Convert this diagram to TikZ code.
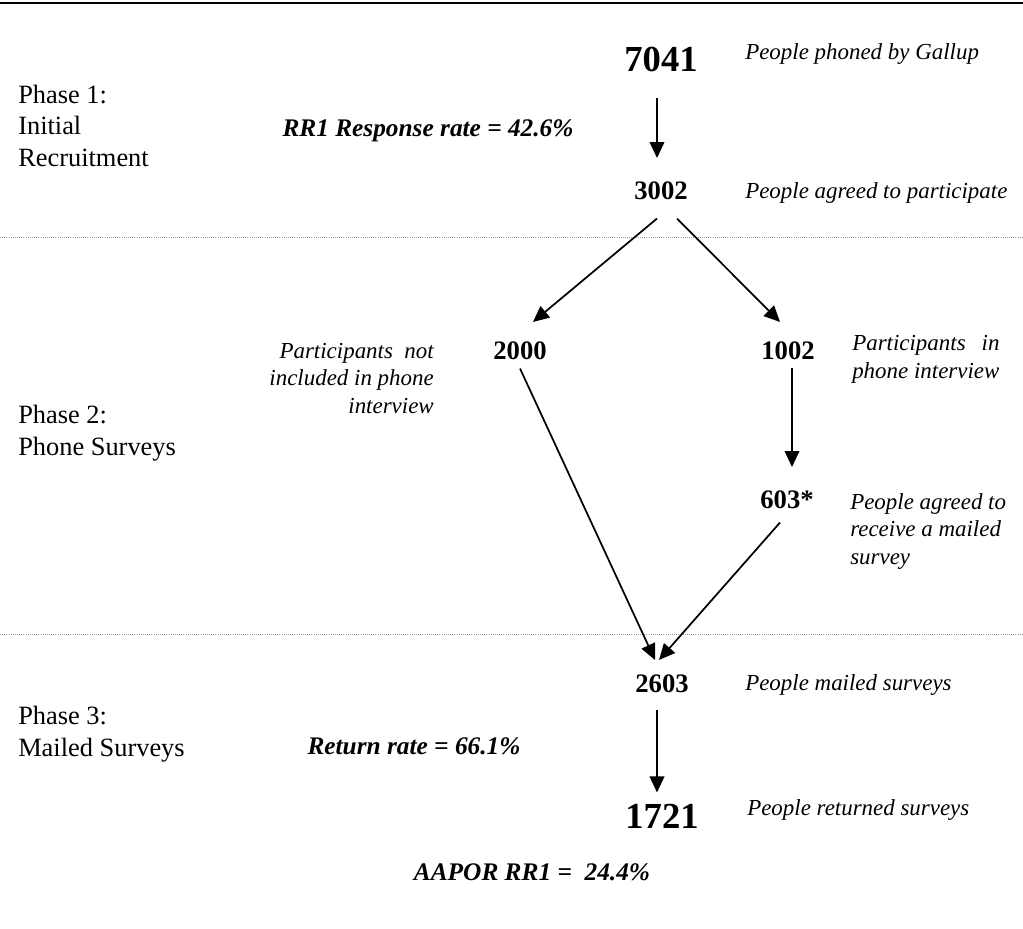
\documentclass[tikz,border=0pt]{standalone}
\usepackage{fontspec}
\setmainfont{Liberation Serif}
\usepackage{tikz}
\usetikzlibrary{arrows.meta, positioning, calc}

\begin{document}
\begin{tikzpicture}[
  x=0.75pt, y=-0.75pt,
  num/.style={inner sep=0pt, anchor=base, font=\fontsize{20}{24}\selectfont\bfseries},
  bignum/.style={inner sep=0pt, anchor=base, font=\fontsize{27.5}{32}\selectfont\bfseries},
  note/.style={inner sep=0pt, anchor=base west, align=left,
               font=\fontsize{17.2}{20.3}\selectfont\itshape},
  phase/.style={inner sep=0pt, anchor=base west, align=left,
                font=\fontsize{19.8}{23.3}\selectfont},
  rate/.style={inner sep=0pt, anchor=base,
               font=\fontsize{19}{22}\selectfont\bfseries\itshape},
  arrow/.style={-{Triangle[length=12pt, width=11pt]}, line width=1.3pt},
  divider/.style={gray!80, densely dotted, line width=0.6pt}
]
\useasboundingbox (0,0) rectangle (1023,928);

% rules
\draw[line width=1.4pt] (0,3) -- (1023,3);
\draw[divider] (0,237) -- (1023,237);
\draw[divider] (0,634) -- (1023,634);

% phases (anchored on the last line)
\node[phase] (ph1) at (18,166) {Phase 1:\\Initial\\Recruitment};
\node[phase] (ph2) at (18,455) {Phase 2:\\Phone Surveys};
\node[phase] (ph3) at (18,756) {Phase 3:\\Mailed Surveys};

% counts
\node[bignum] (n7041) at (661,71)  {7041};
\node[num]    (n3002) at (661,199) {3002};
\node[num]    (n2000) at (520,359) {2000};
\node[num]    (n1002) at (788,359) {1002};
\node[num]    (n603)  at (787,508) {603*};
\node[num]    (n2603) at (662,692) {2603};
\node[bignum] (n1721) at (662,828) {1721};

% notes
\node[note] (l7041) at (745,59)  {People phoned by Gallup};
\node[note] (l3002) at (745,198) {People agreed to participate};
\node[note, anchor=base east, align=right] (l2000) at (434,413)
  {Participants\ \ not\\included in phone\\interview};
\node[note] (l1002) at (852,378)
  {Participants\hspace{0.7em}in\\phone interview};
\node[note] (l603)  at (850,564) {People agreed to\\receive a mailed\\survey};
\node[note] (l2603) at (745,690) {People mailed surveys};
\node[note] (l1721) at (747,815) {People returned surveys};

% rates
\node[rate] (rr1)   at (428,136) {RR1 Response rate = 42.6\%};
\node[rate] (ret)   at (414,754) {Return rate = 66.1\%};
\node[rate] (aapor) at (532,880) {AAPOR RR1 = \ 24.4\%};

% flow
\draw[arrow] ($(n7041.south)+(-4,26)$) -- ($(n3002.north)+(-4,-23)$);
\draw[arrow] ($(n3002.south)+(-4,19)$) -- ($(n2000.north)+(13,-19)$);
\draw[arrow] ($(n3002.south)+(16,19)$) -- ($(n1002.north)+(-8,-19)$);
\draw[arrow] ($(n1002.south)+(4,8)$) -- ($(n603.north)+(5,-23)$);
\draw[arrow] ($(n2000.south)+(0,9)$) -- ($(n2603.north)+(-7,-14)$);
\draw[arrow] ($(n603.south)+(-7,14)$) -- ($(n2603.north)+(-3,-14)$);
\draw[arrow] ($(n2603.south)+(-5,17)$) -- ($(n1721.north)+(-5,-11)$);

\end{tikzpicture}
\end{document}
